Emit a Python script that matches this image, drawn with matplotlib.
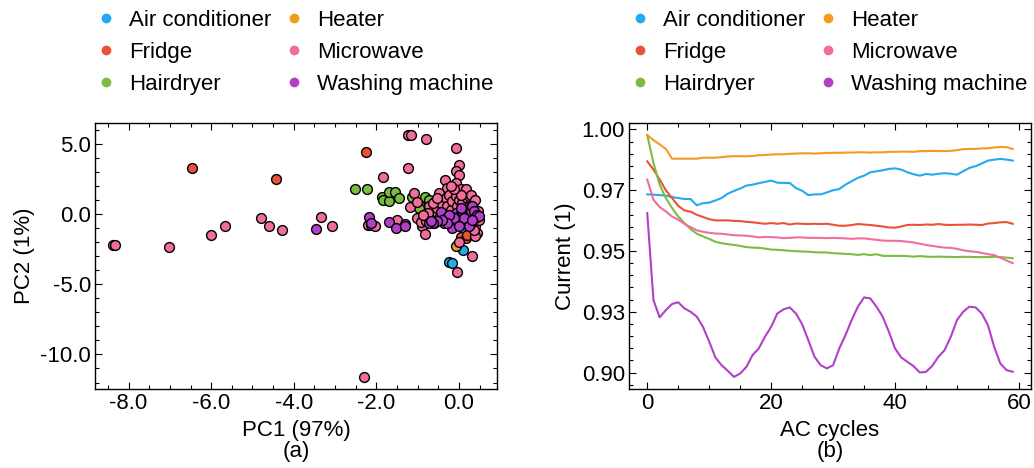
import numpy as np
import matplotlib.pyplot as plt
from matplotlib.lines import Line2D
from matplotlib.ticker import MultipleLocator

plt.rcParams['font.family'] = ['Liberation Sans', 'DejaVu Sans']
plt.rcParams['font.size'] = 16
plt.rcParams['axes.unicode_minus'] = False

# --- data ---
labels = ['Air conditioner', 'Fridge', 'Hairdryer', 'Heater', 'Microwave', 'Washing machine']
colors = ['#22aaee', '#ea5139', '#7cbb42', '#f39b1f', '#f06e98', '#b23fc9']

# (a) PCA scores
pc1_ac = [-0.24, -0.18, 0.10, 0.12]
pc2_ac = [-3.43, -3.50, -2.55, -1.13]
pc1_fridge = [-6.47, -4.43, -2.26, 0.06, 0.24, 0.16, 0.19]
pc2_fridge = [3.28, 2.47, 4.43, -1.66, -1.38, -1.73, -1.48]
pc1_hair = [-2.51, -2.22, -1.86, -1.85, -1.69, -1.70, -1.55, -1.45, -1.14, -0.83, -0.89, -0.97, -0.73, -0.52, -0.72]
pc2_hair = [1.74, 1.74, 1.22, 0.98, 0.91, 1.57, 1.57, 1.14, 1.20, 1.20, 0.50, 0.43, 0.78, 0.90, 1.02]
pc1_heater = [-0.08]
pc2_heater = [-2.26]
pc1_micro = [-8.37, -8.33, -7.03, -6.01, -5.66, -4.80, -4.61, -4.28, -3.33, -3.08, -2.29, -2.20, -2.13, -2.03,
             -1.83, -1.51, -1.24, -1.16, -0.79, -1.24, -1.18, -1.09, -1.01, -1.01, -0.89, -0.83, -0.93, -0.08,
             0.01, -0.08, 0.00, -0.34, -0.28, -0.08, 0.06, 0.32, -0.05, 0.00,
             -0.72, -0.64, -0.56, -0.52, -0.48, -0.44, -0.40, -0.39, -0.32, -0.28, -0.24, -0.20, -0.16, -0.12,
             -0.08, -0.04, 0.00, 0.04, 0.08, 0.12, 0.16, 0.20, 0.24, 0.28, 0.32, 0.36, 0.40, 0.44, 0.40, 0.36,
             0.28, 0.32, 0.40, 0.44, 0.48, 0.24, 0.08, -0.04, -0.16, -0.24, -0.36, -0.48, -0.60, -0.68, -0.76,
             -0.80, -0.88, -0.64, -0.52, 0.16, 0.28, 0.40, 0.47, 0.20, 0.04, -0.12, -0.20]
pc2_micro = [-2.19, -2.20, -2.38, -1.48, -0.86, -0.26, -0.86, -1.15, -0.22, -0.86, -11.6, -0.80, -0.80, -0.86,
             2.66, -0.46, 5.61, 5.61, 5.31, 3.26, 0.47, 1.50, 0.88, -0.28, -0.88, -1.40, -0.55, 4.66,
             3.45, 3.04, 2.80, 2.38, 1.86, 2.20, 1.77, -3.03, -4.12, -2.00,
             0.54, -0.17, 1.02, 0.43, 1.50, 0.78, 0.07, -0.41, 1.14, 0.54, 1.38, 0.31, 0.90, -0.17,
             1.26, 0.54, 1.02, -0.41, 0.78, 1.38, 0.31, 1.14, 0.54, 0.90, -0.05, -0.41, -0.88, -1.36, -1.60, -1.12,
             -0.64, 0.66, 0.31, -0.17, -0.41, 1.26, 0.07, -0.64, -0.88, -0.53, -0.64, -0.29, -0.64, -0.41, 0.07,
             -0.53, -0.05, 0.78, 1.14, 1.74, 1.38, 1.02, 0.19, -0.17, 1.38, 1.74, 1.97]
pc1_wash = [-3.47, -2.17, -2.14, -1.70, -1.53, -1.30, -1.30,
            -0.44, -0.32, -0.20, -0.16, -0.08, -0.04, 0.00, 0.08, 0.16, 0.20, 0.24, 0.28, 0.32, 0.36, 0.40,
            0.44, 0.48, 0.12, 0.04, -0.12, -0.24, -0.28, -0.40, -0.52, -0.64, -0.72, 0.24, 0.32, 0.00, -0.68]
pc2_wash = [-1.07, -0.22, -0.65, -0.55, -0.98, -0.70, -0.83,
            0.11, -0.29, -0.41, -1.00, 0.07, -0.53, -0.17, 0.19, 0.31, -0.41, -0.17, 0.19, 0.59, 0.19, -0.29,
            -0.05, -0.17, -0.29, 0.43, -0.29, -0.05, -0.64, -0.41, -0.53, -0.64, -0.64, -0.88, -0.41, -0.88, -0.53]

pc1 = [pc1_ac, pc1_fridge, pc1_hair, pc1_heater, pc1_micro, pc1_wash]
pc2 = [pc2_ac, pc2_fridge, pc2_hair, pc2_heater, pc2_micro, pc2_wash]

# (b) mean current per AC cycle
cycles = np.arange(60)
cur_ac = [0.9733, 0.9732, 0.9730, 0.9728, 0.9722, 0.9718, 0.9714, 0.9714, 0.9688, 0.9697,
          0.9699, 0.9708, 0.9718, 0.9736, 0.9747, 0.9757, 0.9769, 0.9773, 0.9779, 0.9784,
          0.9790, 0.9781, 0.9780, 0.9780, 0.9759, 0.9748, 0.9730, 0.9733, 0.9733, 0.9741,
          0.9750, 0.9755, 0.9773, 0.9787, 0.9801, 0.9810, 0.9824, 0.9828, 0.9832, 0.9838,
          0.9840, 0.9835, 0.9824, 0.9816, 0.9810, 0.9817, 0.9814, 0.9818, 0.9820, 0.9818,
          0.9814, 0.9828, 0.9842, 0.9849, 0.9860, 0.9872, 0.9876, 0.9879, 0.9876, 0.9872]
cur_fridge = [0.9869, 0.9835, 0.9794, 0.9750, 0.9718, 0.9686, 0.9667, 0.9662, 0.9649, 0.9640,
              0.9631, 0.9626, 0.9626, 0.9626, 0.9624, 0.9623, 0.9620, 0.9618, 0.9615, 0.9612,
              0.9615, 0.9612, 0.9615, 0.9609, 0.9613, 0.9612, 0.9611, 0.9612, 0.9611, 0.9612,
              0.9608, 0.9604, 0.9604, 0.9607, 0.9611, 0.9609, 0.9607, 0.9604, 0.9601, 0.9597,
              0.9596, 0.9601, 0.9607, 0.9608, 0.9607, 0.9609, 0.9608, 0.9611, 0.9608, 0.9607,
              0.9608, 0.9608, 0.9609, 0.9608, 0.9607, 0.9613, 0.9615, 0.9618, 0.9619, 0.9612]
cur_hair = [0.9977, 0.9862, 0.9773, 0.9718, 0.9677, 0.9642, 0.9615, 0.9590, 0.9571, 0.9560,
            0.9550, 0.9538, 0.9532, 0.9528, 0.9525, 0.9521, 0.9516, 0.9514, 0.9513, 0.9510,
            0.9506, 0.9505, 0.9503, 0.9501, 0.9499, 0.9498, 0.9497, 0.9495, 0.9494, 0.9494,
            0.9491, 0.9490, 0.9488, 0.9487, 0.9484, 0.9487, 0.9483, 0.9487, 0.9480, 0.9480,
            0.9480, 0.9480, 0.9479, 0.9477, 0.9479, 0.9477, 0.9476, 0.9477, 0.9476, 0.9476,
            0.9475, 0.9476, 0.9476, 0.9475, 0.9475, 0.9475, 0.9476, 0.9475, 0.9473, 0.9470]
cur_heater = [0.9977, 0.9956, 0.9939, 0.9920, 0.9880, 0.9880, 0.9880, 0.9880, 0.9880, 0.9884,
              0.9884, 0.9884, 0.9886, 0.9889, 0.9890, 0.9890, 0.9890, 0.9891, 0.9894, 0.9895,
              0.9897, 0.9898, 0.9898, 0.9900, 0.9901, 0.9902, 0.9902, 0.9901, 0.9902, 0.9904,
              0.9904, 0.9904, 0.9905, 0.9905, 0.9906, 0.9906, 0.9905, 0.9906, 0.9906, 0.9908,
              0.9908, 0.9909, 0.9909, 0.9908, 0.9911, 0.9911, 0.9912, 0.9911, 0.9911, 0.9912,
              0.9915, 0.9919, 0.9920, 0.9920, 0.9922, 0.9923, 0.9926, 0.9928, 0.9927, 0.9920]
cur_micro = [0.9794, 0.9711, 0.9681, 0.9663, 0.9642, 0.9629, 0.9612, 0.9598, 0.9585, 0.9579,
             0.9575, 0.9572, 0.9571, 0.9568, 0.9565, 0.9564, 0.9563, 0.9560, 0.9556, 0.9558,
             0.9557, 0.9556, 0.9553, 0.9554, 0.9556, 0.9556, 0.9554, 0.9554, 0.9554, 0.9553,
             0.9554, 0.9553, 0.9552, 0.9550, 0.9552, 0.9552, 0.9549, 0.9546, 0.9543, 0.9542,
             0.9542, 0.9541, 0.9538, 0.9535, 0.9530, 0.9525, 0.9521, 0.9517, 0.9514, 0.9513,
             0.9509, 0.9503, 0.9499, 0.9497, 0.9492, 0.9487, 0.9483, 0.9472, 0.9461, 0.9450]
cur_wash = [0.9656, 0.9298, 0.9227, 0.9257, 0.9282, 0.9289, 0.9264, 0.9250, 0.9230, 0.9188,
            0.9127, 0.9062, 0.9030, 0.9007, 0.8982, 0.8996, 0.9023, 0.9072, 0.9099, 0.9147,
            0.9188, 0.9243, 0.9260, 0.9268, 0.9243, 0.9199, 0.9133, 0.9065, 0.9030, 0.9017,
            0.9030, 0.9099, 0.9154, 0.9216, 0.9271, 0.9309, 0.9305, 0.9271, 0.9230, 0.9168,
            0.9099, 0.9062, 0.9044, 0.9026, 0.9000, 0.9003, 0.9027, 0.9065, 0.9092, 0.9147,
            0.9216, 0.9250, 0.9271, 0.9268, 0.9243, 0.9195, 0.9106, 0.9037, 0.9010, 0.9003]
currents = [cur_ac, cur_fridge, cur_hair, cur_heater, cur_micro, cur_wash]

b_yticks = [0.900, 0.925, 0.950, 0.975, 1.000]
b_yticklabels = ['0.90', '0.93', '0.95', '0.97', '1.00']

# --- figure ---
fig = plt.figure(figsize=(10.34, 4.68), dpi=100)
ax1 = fig.add_axes([0.0919, 0.1688, 0.3888, 0.5684])
ax2 = fig.add_axes([0.6083, 0.1688, 0.3888, 0.5684])

for x, y, c, lab in zip(pc1, pc2, colors, labels):
    ax1.scatter(x, y, s=50, color=c, edgecolors='black', linewidths=1.0, label=lab, zorder=3)

for y, c, lab in zip(currents, colors, labels):
    ax2.plot(cycles, y, color=c, lw=1.5, label=lab)

ax1.set_xlabel('PC1 (97%)\n(a)', linespacing=1.0)
ax1.set_ylabel('PC2 (1%)')
ax1.xaxis.set_major_locator(MultipleLocator(2))
ax1.xaxis.set_minor_locator(MultipleLocator(0.5))
ax1.yaxis.set_major_locator(MultipleLocator(5))
ax1.yaxis.set_minor_locator(MultipleLocator(1))
ax1.xaxis.set_major_formatter('{x:.1f}')
ax1.yaxis.set_major_formatter('{x:.1f}')

ax2.set_xlabel('AC cycles\n(b)', linespacing=1.0)
ax2.set_ylabel('Current (1)')
ax2.xaxis.set_major_locator(MultipleLocator(20))
ax2.xaxis.set_minor_locator(MultipleLocator(5))
ax2.set_yticks(b_yticks)
ax2.set_yticklabels(b_yticklabels)
ax2.yaxis.set_minor_locator(MultipleLocator(0.005))

for ax in (ax1, ax2):
    for sp in ax.spines.values():
        sp.set_linewidth(1.0)
    ax.tick_params(which='both', direction='in', top=True, right=True, width=0.8, pad=3)
    ax.tick_params(which='major', length=5)
    ax.tick_params(which='minor', length=3)
    handles = [Line2D([], [], ls='none', marker='o', ms=6, color=c) for c in colors]
    ax.legend(handles, labels, ncol=2, loc='lower left', bbox_to_anchor=(0.0, 1.105),
              frameon=False, borderpad=0, handlelength=1.0, handletextpad=0.55,
              columnspacing=0.5, labelspacing=0.5, borderaxespad=0)

fig.savefig('out.png', dpi=100)
